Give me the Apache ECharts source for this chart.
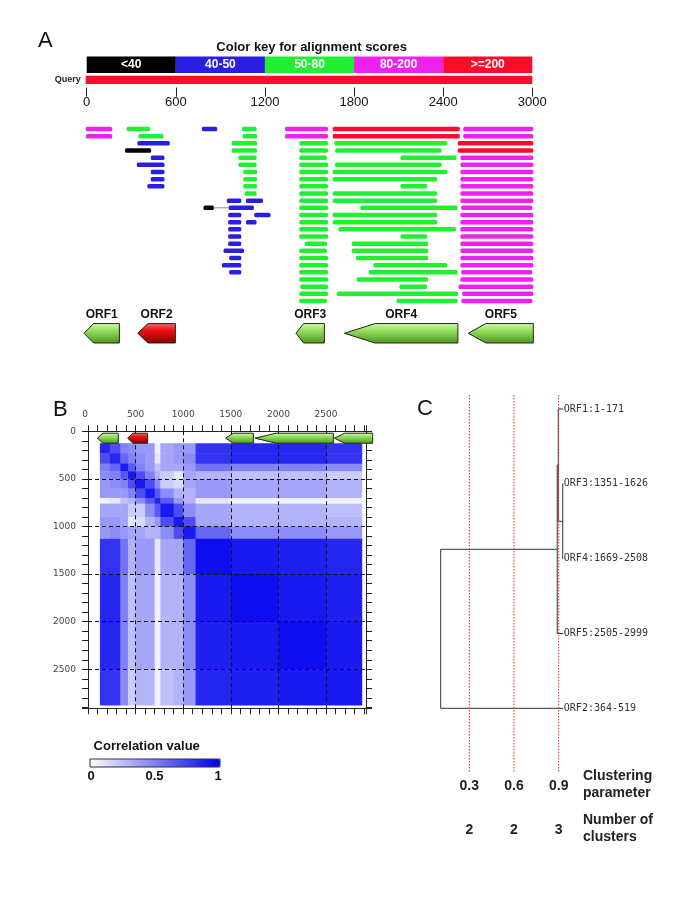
<!DOCTYPE html>
<html><head><meta charset="utf-8">
<script src="https://cdn.jsdelivr.net/npm/echarts@6/dist/echarts.min.js"></script>
<style>html,body{margin:0;padding:0;background:#fff}#c{width:685px;height:913px}</style>
</head><body><div id="c"></div>
<script>
// ================= DATA =================
// Panel A: color key
const scoreLabels = ['<40', '40-50', '50-80', '80-200', '>=200'];
const scoreBreaks = [0, 600, 1200, 1800, 2400, 3000];
const scoreColors = ['#000000', '#2a1fe0', '#22ee33', '#ee22ee', '#ff0a2a'];
const keyRows = ['Key', 'Query'];
const queryRange = [0, 3000];
// Panel A: alignment hits [row, start, end, scoreClass]
const hitSegments = [
  [1,1,165,3],[1,276,420,2],[1,782,872,1],[1,1052,1137,2],[1,1342,1618,3],[1,1663,2505,4],[1,2542,3000,3],
  [2,1,165,3],[2,355,510,2],[2,1056,1141,2],[2,1342,1618,3],[2,1663,2505,4],[2,2542,3000,3],
  [3,348,553,1],[3,982,1141,2],[3,1438,1618,2],[3,1674,2422,2],[3,2505,3000,4],
  [4,265,326,0],[4,330,427,0],[4,982,1141,2],[4,1438,1618,2],[4,1679,2382,2],[4,2505,3000,4],
  [5,438,517,1],[5,1029,1137,2],[5,1438,1610,2],[5,2119,2483,2],[5,2523,3000,3],
  [6,344,517,1],[6,1029,1137,2],[6,1438,1618,2],[6,1679,2382,2],[6,2523,3000,3],
  [7,438,517,1],[7,1061,1141,2],[7,1438,1618,2],[7,1663,2422,2],[7,2523,3000,3],
  [8,438,517,1],[8,1061,1141,2],[8,1438,1618,2],[8,1663,2353,2],[8,2523,3000,3],
  [9,415,517,1],[9,1061,1141,2],[9,1438,1618,2],[9,2119,2285,2],[9,2523,3000,3],
  [10,1070,1137,2],[10,1438,1618,2],[10,1663,2353,2],[10,2523,3000,3],
  [11,950,1034,1],[11,1079,1180,1],[11,1438,1618,2],[11,1663,2353,2],[11,2523,3000,3],
  [12,793,850,0],[12,962,1119,1],[12,1438,1618,2],[12,1849,2490,2],[12,2528,2993,3],
  [13,959,1034,1],[13,1135,1231,1],[13,1438,1618,2],[13,1663,2353,2],[13,2523,3000,3],
  [14,959,1034,1],[14,1079,1137,1],[14,1438,1618,2],[14,1663,2353,2],[14,2523,3000,3],
  [15,959,1034,1],[15,1438,1618,2],[15,1701,2479,2],[15,2523,3000,3],
  [16,959,1034,1],[16,1438,1618,2],[16,2119,2285,2],[16,2523,3000,3],
  [17,959,1034,1],[17,1476,1611,2],[17,1791,2292,2],[17,2523,3000,3],
  [18,928,1052,1],[18,1438,1610,2],[18,1791,2292,2],[18,2523,3000,3],
  [19,966,1034,1],[19,1438,1618,2],[19,1820,2292,2],[19,2523,3000,3],
  [20,917,1034,1],[20,1438,1618,2],[20,1937,2420,2],[20,2523,3000,3],
  [21,966,1034,1],[21,1438,1618,2],[21,1905,2490,2],[21,2528,2993,3],
  [22,1438,1618,2],[22,1825,2292,2],[22,2523,3000,3],
  [23,1445,1618,2],[23,2112,2285,2],[23,2510,3000,3],
  [24,1438,1618,2],[24,1690,2494,2],[24,2535,3000,3],
  [25,1438,1610,2],[25,2094,2490,2],[25,2530,2993,3]
];
// gap connectors [row, start, end]
const hitLinks = [[12, 850, 962]];
// ORFs
const orfNames = ['ORF1', 'ORF2', 'ORF3', 'ORF4', 'ORF5'];
const orfIsRed = [0, 1, 0, 0, 0];
const orfSpanA = [[-18, 220], [344, 597], [1409, 1600], [1735, 2499], [2569, 3007]];
// Panel B: ORFs on the correlation map axis
const orfSpanB = [[98, 318], [416, 626], [1446, 1737], [1754, 2577], [2588, 2990]];
// Panel B: block boundaries and correlation values (upper triangle, row from diagonal)
const hmBreaks = [125, 230, 340, 420, 500, 600, 700, 760, 900, 1000, 1130, 1500, 2000, 2500, 2875];
const hmUpper = [
  [0.85, 0.7, 0.5, 0.45, 0.4, 0.4, 0.05, 0.35, 0.4, 0.4, 0.8, 0.85, 0.85, 0.8],
  [0.85, 0.6, 0.5, 0.45, 0.4, 0.1, 0.35, 0.4, 0.45, 0.8, 0.85, 0.85, 0.8],
  [0.9, 0.65, 0.5, 0.4, 0.25, 0.35, 0.35, 0.4, 0.55, 0.5, 0.5, 0.45],
  [0.9, 0.7, 0.5, 0.3, 0.2, 0.1, 0.35, 0.3, 0.25, 0.25, 0.2],
  [0.9, 0.7, 0.45, 0.2, 0.15, 0.35, 0.4, 0.35, 0.35, 0.3],
  [0.9, 0.65, 0.45, 0.3, 0.3, 0.4, 0.35, 0.35, 0.3],
  [0.85, 0.65, 0.4, 0.3, 0.1, 0.05, 0.05, 0.05],
  [0.9, 0.7, 0.45, 0.35, 0.3, 0.3, 0.25],
  [0.9, 0.7, 0.35, 0.3, 0.3, 0.3],
  [0.9, 0.6, 0.45, 0.45, 0.4],
  [0.95, 0.9, 0.88, 0.85],
  [0.95, 0.9, 0.88],
  [0.95, 0.9],
  [0.9]
];
const legendTicks = [0, 0.5, 1];
// Panel C: dendrogram (leaf order top->bottom)
const leafNames = ['ORF1:1-171', 'ORF3:1351-1626', 'ORF4:1669-2508', 'ORF5:2505-2999', 'ORF2:364-519'];
const leafLevel = 0.931;
const mergeA = [1, 0, 6, 7];
const mergeB = [2, 5, 3, 4];
const mergeLevel = [0.927, 0.897, 0.89, 0.108];
const clusterParams = [0.3, 0.6, 0.9];
const clusterCounts = [2, 2, 3];

// ================= LAYOUT / STYLE =================
const FONT = '"Liberation Sans", Arial, sans-serif';
const GREEN = [{offset:0,color:'#d4ffb2'},{offset:0.35,color:'#98e060'},{offset:1,color:'#4a9620'}];
const RED = [{offset:0,color:'#ff7070'},{offset:0.35,color:'#ee1010'},{offset:1,color:'#860000'}];
const headFrac = 0.27;
const rowBar = 4.5;
const arrowRowA = 29.5, arrowHalfA = 9.7, orfLabelRowA = 26.9;
const geneTrackB = [20, 125];
const cTop = 395, cBottom = 773, leaf0Px = 409, leafStepPx = 74.83;
const cYMin = -(leaf0Px - cTop) / leafStepPx;
const cYMax = (leafNames.length - 1) + (cBottom - (leaf0Px + leafStepPx * (leafNames.length - 1))) / leafStepPx;
const plain = v => String(Math.round(v));

function arrow(xL, xR, yc, h, red) {
  const hl = Math.max(4, (xR - xL) * headFrac);
  return {
    type: 'polygon',
    shape: { points: [[xL, yc], [xL + hl, yc - h], [xR, yc - h], [xR, yc + h], [xL + hl, yc + h]] },
    style: { fill: { type: 'linear', x: 0, y: 0, x2: 0, y2: 1, colorStops: red ? RED : GREEN }, stroke: '#1b2612', lineWidth: 1 }
  };
}

// derived series data
const keyData = scoreLabels.map((l, i) => [scoreBreaks[i], scoreBreaks[i + 1], 0, i]);
const queryData = [[queryRange[0], queryRange[1], 1, 4]];
const hitData = hitSegments.map(s => [s[1], s[2], s[0], s[3]]);
const linkData = hitLinks.map(s => [s[1], s[2], s[0]]);
const orfAData = orfSpanA.map((s, i) => [s[0], s[1], i]);
const orfBData = orfSpanB.map((s, i) => [s[0], s[1], i]);
const hmCells = [];
for (let i = 0; i < hmBreaks.length - 1; i++) {
  for (let j = 0; j < hmBreaks.length - 1; j++) {
    const v = i <= j ? hmUpper[i][j - i] : hmUpper[j][i - j];
    hmCells.push([hmBreaks[j], hmBreaks[j + 1], hmBreaks[i], hmBreaks[i + 1], v]);
  }
}
const nodeLevel = leafNames.map(() => leafLevel);
const nodeY = leafNames.map((_, i) => i);
const dendroData = [];
mergeA.forEach((a, k) => {
  const b = mergeB[k], L = mergeLevel[k];
  dendroData.push([nodeLevel[a], nodeY[a], L, nodeLevel[b], nodeY[b]]);
  nodeLevel.push(L);
  nodeY.push((nodeY[a] + nodeY[b]) / 2);
});
const leafData = leafNames.map((n, i) => [leafLevel, i]);

function paramIndex(v) { return clusterParams.findIndex(p => Math.abs(p - v) < 1e-6); }

const chart = echarts.init(document.getElementById('c'), null, { renderer: 'canvas' });
const axB = {
  type: 'value', gridIndex: 2, min: 0, max: 2920, interval: 500,
  axisLine: { show: true, onZero: false, lineStyle: { color: '#222', width: 1 } },
  axisTick: { show: true, length: 6, lineStyle: { color: '#222' } },
  minorTick: { show: true, splitNumber: 5, length: 6, lineStyle: { color: '#222' } },
  splitLine: { show: false }
};
const labB = { show: true, margin: 12, fontSize: 9, color: '#444', fontFamily: '"DejaVu Sans", sans-serif', showMaxLabel: false, formatter: plain };
const option = {
  animation: false,
  backgroundColor: '#ffffff',
  grid: [
    { left: 86.7, top: 57, width: 445.6, height: 30.6, outerBoundsMode: 'none' },
    { left: 86.7, top: 121.8, width: 445.6, height: 229.4, outerBoundsMode: 'none' },
    { left: 88, top: 431.3, width: 278, height: 277, outerBoundsMode: 'none' },
    { left: 424.6, top: cTop, width: 149, height: cBottom - cTop, outerBoundsMode: 'none' }
  ],
  xAxis: [
    { type: 'value', gridIndex: 0, min: 0, max: 3000, interval: 600, position: 'bottom',
      axisLine: { show: false }, axisTick: { show: true, length: 9, lineStyle: { color: '#222' } },
      axisLabel: { margin: 8, fontSize: 13, color: '#111', fontFamily: FONT, formatter: plain }, splitLine: { show: false } },
    { type: 'value', gridIndex: 1, min: 0, max: 3000, show: false },
    Object.assign({}, axB, { position: 'top',
      axisLabel: Object.assign({}, labB, { alignMinLabel: 'right' }),
      splitLine: { show: true, lineStyle: { color: '#111', type: [4, 3], width: 1 } } }),
    Object.assign({}, axB, { position: 'bottom', axisLabel: { show: false } }),
    { type: 'value', gridIndex: 3, min: 0, max: 1, interval: 0.3, position: 'bottom',
      axisLine: { show: false }, axisTick: { show: false }, splitLine: { show: false },
      axisLabel: { margin: 6, fontSize: 14, fontWeight: 'bold', color: '#222', fontFamily: FONT,
        formatter: v => { const i = paramIndex(v); return i >= 0 ? clusterParams[i].toFixed(1) : ''; } } },
    { type: 'value', gridIndex: 3, min: 0, max: 1, interval: 0.3, position: 'bottom', offset: 45,
      axisLine: { show: false }, axisTick: { show: false }, splitLine: { show: false },
      axisLabel: { margin: 5, fontSize: 14, fontWeight: 'bold', color: '#222', fontFamily: FONT,
        formatter: v => { const i = paramIndex(v); return i >= 0 ? String(clusterCounts[i]) : ''; } } }
  ],
  yAxis: [
    { type: 'category', gridIndex: 0, data: keyRows, inverse: true,
      axisLine: { show: false }, axisTick: { show: false }, splitLine: { show: false },
      axisLabel: { margin: 6, fontSize: 9, fontWeight: 'bold', color: '#222', fontFamily: FONT,
        formatter: v => v === 'Query' ? v : '' } },
    { type: 'value', gridIndex: 1, min: 0, max: 32, inverse: true, show: false },
    Object.assign({}, axB, { max: 2910, inverse: true, position: 'left',
      axisLabel: labB,
      splitLine: { show: true, lineStyle: { color: '#111', type: [4, 3], width: 1 } } }),
    Object.assign({}, axB, { max: 2910, inverse: true, position: 'right', axisLabel: { show: false } }),
    { type: 'value', gridIndex: 3, min: cYMin, max: cYMax, inverse: true, show: false }
  ],
  visualMap: {
    type: 'continuous', seriesIndex: 5, dimension: 4, min: 0, max: 1,
    inRange: { color: ['#ffffff', '#0000ee'] },
    orient: 'horizontal', left: 90, top: 759, itemWidth: 8, itemHeight: 130,
    calculable: false, padding: 0, hoverLink: false
  },
  series: [
    { // 0 color key
      type: 'custom', xAxisIndex: 0, yAxisIndex: 0, data: keyData, encode: { x: [0, 1], y: 2 },
      renderItem: (p, api) => {
        const a = api.coord([api.value(0), api.value(2)]);
        const b = api.coord([api.value(1), api.value(2)]);
        const h = api.size([0, 1])[1] * 1.08;
        const c = api.value(3);
        return { type: 'group', children: [
          { type: 'rect', shape: { x: a[0], y: a[1] - h / 2, width: b[0] - a[0], height: h }, style: { fill: scoreColors[c] } },
          { type: 'text', x: (a[0] + b[0]) / 2, y: a[1] + 0.5, style: { text: scoreLabels[c], fill: '#ffffff', font: 'bold 12px ' + FONT, textAlign: 'center', textVerticalAlign: 'middle' } }
        ] };
      }
    },
    { // 1 query bar
      type: 'custom', xAxisIndex: 0, yAxisIndex: 0, data: queryData, encode: { x: [0, 1], y: 2 },
      renderItem: (p, api) => {
        const a = api.coord([api.value(0), api.value(2)]);
        const b = api.coord([api.value(1), api.value(2)]);
        const h = api.size([0, 1])[1] * 0.54;
        return { type: 'rect', shape: { x: a[0] - 1, y: a[1] - h / 2, width: b[0] - a[0] + 1, height: h }, style: { fill: scoreColors[api.value(3)] } };
      }
    },
    { // 2 hits
      type: 'custom', xAxisIndex: 1, yAxisIndex: 1, data: hitData, encode: { x: [0, 1], y: 2 },
      renderItem: (p, api) => {
        const a = api.coord([api.value(0), api.value(2)]);
        const b = api.coord([api.value(1), api.value(2)]);
        return { type: 'rect', shape: { x: a[0] - 1, y: a[1] - rowBar / 2, width: b[0] - a[0] + 2, height: rowBar, r: 1.5 }, style: { fill: scoreColors[api.value(3)] } };
      }
    },
    { // 3 links
      type: 'custom', xAxisIndex: 1, yAxisIndex: 1, data: linkData, encode: { x: [0, 1], y: 2 },
      renderItem: (p, api) => {
        const a = api.coord([api.value(0), api.value(2)]);
        const b = api.coord([api.value(1), api.value(2)]);
        return { type: 'line', shape: { x1: a[0], y1: a[1], x2: b[0], y2: b[1] }, style: { stroke: '#888', lineWidth: 1 } };
      }
    },
    { // 4 ORF arrows panel A
      type: 'custom', xAxisIndex: 1, yAxisIndex: 1, data: orfAData, encode: { x: [0, 1] },
      renderItem: (p, api) => {
        const i = api.value(2);
        const a = api.coord([api.value(0), arrowRowA]);
        const b = api.coord([api.value(1), arrowRowA]);
        const t = api.coord([(api.value(0) + api.value(1)) / 2, orfLabelRowA]);
        return { type: 'group', children: [
          arrow(a[0], b[0], a[1], arrowHalfA, orfIsRed[i]),
          { type: 'text', x: t[0], y: t[1], style: { text: orfNames[i], fill: '#111', font: 'bold 12px ' + FONT, textAlign: 'center', textVerticalAlign: 'middle' } }
        ] };
      }
    },
    { // 5 correlation heatmap
      type: 'custom', xAxisIndex: 2, yAxisIndex: 2, z: -1, data: hmCells,
      dimensions: ['x0', 'x1', 'y0', 'y1', 'v'], encode: { x: [0, 1], y: [2, 3] },
      renderItem: (p, api) => {
        const a = api.coord([api.value(0), api.value(2)]);
        const b = api.coord([api.value(1), api.value(3)]);
        return { type: 'rect', shape: { x: Math.min(a[0], b[0]), y: Math.min(a[1], b[1]), width: Math.abs(b[0] - a[0]) + 0.5, height: Math.abs(b[1] - a[1]) + 0.5 }, style: { fill: api.visual('color') } };
      }
    },
    { // 6 ORF arrows panel B
      type: 'custom', xAxisIndex: 2, yAxisIndex: 2, data: orfBData, encode: { x: [0, 1] },
      renderItem: (p, api) => {
        const i = api.value(2);
        const a = api.coord([api.value(0), geneTrackB[0]]);
        const b = api.coord([api.value(1), geneTrackB[1]]);
        return arrow(a[0], b[0], (a[1] + b[1]) / 2, (b[1] - a[1]) / 2, orfIsRed[i]);
      }
    },
    { // 7 dendrogram
      type: 'custom', xAxisIndex: 4, yAxisIndex: 4, data: dendroData, encode: { x: [0, 2, 3], y: [1, 4] },
      renderItem: (p, api) => {
        const L = api.value(2);
        const pts = [
          api.coord([api.value(0), api.value(1)]), api.coord([L, api.value(1)]),
          api.coord([L, api.value(4)]), api.coord([api.value(3), api.value(4)])
        ];
        return { type: 'polyline', shape: { points: pts }, style: { stroke: '#333', lineWidth: 1, fill: null } };
      }
    },
    { // 8 cut lines
      type: 'custom', xAxisIndex: 4, yAxisIndex: 4, data: clusterParams.map(v => [v, 0]), encode: { x: 0, y: 1 },
      renderItem: (p, api) => {
        const a = api.coord([api.value(0), cYMin]);
        const b = api.coord([api.value(0), cYMax]);
        return { type: 'line', shape: { x1: a[0], y1: a[1], x2: b[0], y2: b[1] }, style: { stroke: '#e02828', lineWidth: 1, lineDash: [1.5, 1.5] } };
      }
    },
    { // 9 leaf labels
      type: 'custom', xAxisIndex: 4, yAxisIndex: 4, data: leafData, encode: { x: 0, y: 1 },
      renderItem: (p, api) => {
        const a = api.coord([api.value(0), api.value(1)]);
        return { type: 'text', x: a[0] + 0.5, y: a[1], style: { text: leafNames[p.dataIndex], fill: '#333', font: '10px "DejaVu Sans Mono", monospace', textAlign: 'left', textVerticalAlign: 'middle' } };
      }
    }
  ],
  graphic: [
    { type: 'text', x: 38, y: 41, style: { text: 'A', font: '22px ' + FONT, fill: '#111', textVerticalAlign: 'middle' } },
    { type: 'text', x: 53, y: 410, style: { text: 'B', font: '22px ' + FONT, fill: '#111', textVerticalAlign: 'middle' } },
    { type: 'text', x: 417, y: 409, style: { text: 'C', font: '22px ' + FONT, fill: '#111', textVerticalAlign: 'middle' } },
    { type: 'text', x: 311.7, y: 47.3, style: { text: 'Color key for alignment scores', font: 'bold 13px ' + FONT, fill: '#111', textAlign: 'center', textVerticalAlign: 'middle' } },
    { type: 'text', x: 146.7, y: 746.7, style: { text: 'Correlation value', font: 'bold 13px ' + FONT, fill: '#111', textAlign: 'center', textVerticalAlign: 'middle' } },
    { type: 'rect', shape: { x: 90, y: 759, width: 130, height: 8 }, style: { fill: null, stroke: '#333', lineWidth: 1 }, z: 100 },
    ...legendTicks.map(t => ({ type: 'text', x: 91 + t * 127, y: 776, style: { text: String(t), font: 'bold 13px ' + FONT, fill: '#111', textAlign: 'center', textVerticalAlign: 'middle' } })),
    { type: 'text', x: 583, y: 785, style: { text: 'Clustering\nparameter', font: 'bold 14px ' + FONT, lineHeight: 17, fill: '#222', textVerticalAlign: 'middle' } },
    { type: 'text', x: 583, y: 828.5, style: { text: 'Number of\nclusters', font: 'bold 14px ' + FONT, lineHeight: 17, fill: '#222', textVerticalAlign: 'middle' } }
  ]
};
chart.setOption(option);
</script>
</body></html>
